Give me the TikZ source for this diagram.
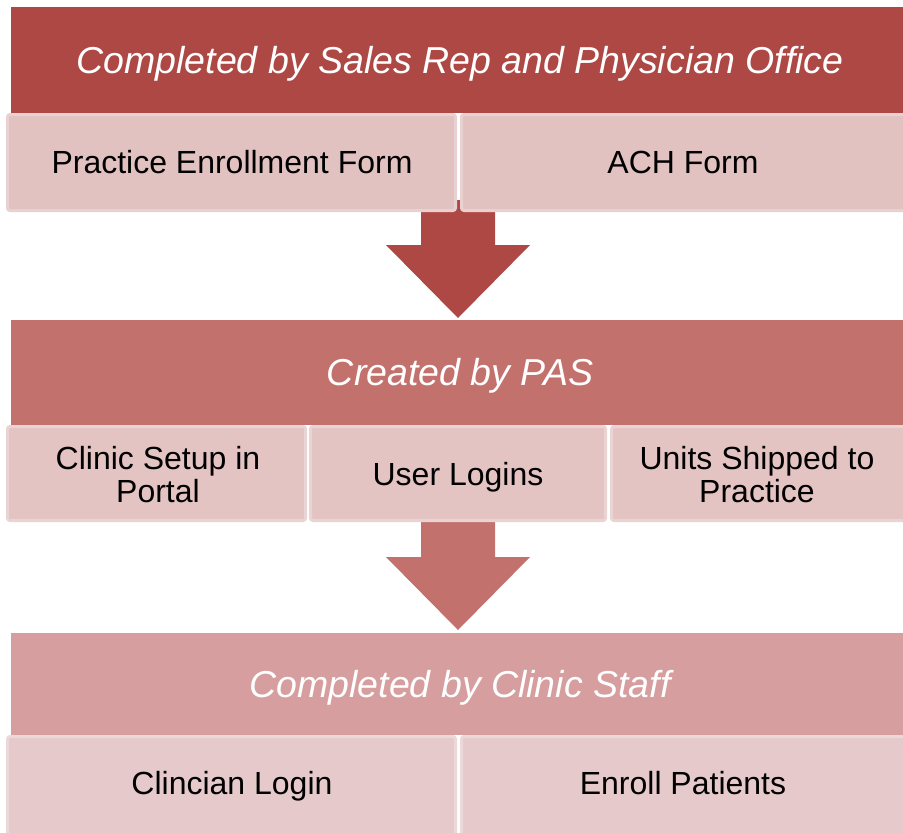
\documentclass[tikz,border=0pt]{standalone}
\usepackage{fontspec}
\setmainfont{Liberation Sans}
\definecolor{hA}{HTML}{AE4845}
\definecolor{hB}{HTML}{C3716D}
\definecolor{hC}{HTML}{D69E9E}
\definecolor{fA}{HTML}{E2C1C1}
\definecolor{fB}{HTML}{E4C3C3}
\definecolor{fC}{HTML}{E6CACB}
\definecolor{bA}{HTML}{E9D1D1}
\definecolor{bB}{HTML}{EAD3D3}
\definecolor{bC}{HTML}{ECD8D8}
\begin{document}
\begin{tikzpicture}[x=1pt,y=-1pt,
  hdr/.style={rectangle, inner sep=0pt, outer sep=0pt, anchor=north west},
  htext/.style={text=white, inner sep=0pt, text height=26.85pt, text depth=0pt,
    font=\fontsize{37.5}{44}\selectfont\itshape},
  sub/.style={rectangle, rounded corners=2.5pt, line width=3pt, anchor=north west, inner sep=0pt},
  stext/.style={text=black, inner sep=0pt, text height=22.9pt, text depth=0pt,
    font=\fontsize{32}{33}\selectfont},
  mtext/.style={text=black, inner sep=0pt, align=center, font=\fontsize{32}{32.7}\selectfont},
  subA/.style={sub, fill=fA, draw=bA},
  subB/.style={sub, fill=fB, draw=bB},
  subC/.style={sub, fill=fC, draw=bC},
]
\useasboundingbox (0,0) rectangle (903,833);
\clip (0,0) rectangle (903,833);
\fill[white] (0,0) rectangle (903,833);

% arrows (drawn first, behind the boxes)
\fill[hA] (421,200) -- (495,200) -- (495,245) -- (530,245) -- (458,318) -- (386,245) -- (421,245) -- cycle;
\fill[hB] (421,510) -- (495,510) -- (495,557) -- (530,557) -- (458,630) -- (386,557) -- (421,557) -- cycle;

% section 1
\node[hdr, fill=hA, minimum width=899pt, minimum height=106pt] (h1) at (11,7) {};
\node[htext] (h1t) at (460,60) {Completed by Sales Rep and Physician Office};
\node[subA, minimum width=448pt, minimum height=96pt] (r1a) at (6,113) {};
\node[stext] (r1at) at (232,162.5) {Practice Enrollment Form};
\node[subA, minimum width=447pt, minimum height=96pt] (r1b) at (460,113) {};
\node[stext] (r1bt) at (683,162.5) {ACH Form};

% section 2
\node[hdr, fill=hB, minimum width=899pt, minimum height=105pt] (h2) at (11,320) {};
\node[htext] (h2t) at (460,372) {Created by PAS};
\node[subB, minimum width=298pt, minimum height=94pt] (r2a) at (6,425) {};
\node[mtext] (r2at) at (158,474.5) {Clinic Setup in\\Portal};
\node[subB, minimum width=295pt, minimum height=94pt] (r2b) at (309,425) {};
\node[stext] (r2bt) at (458,474) {User Logins};
\node[subB, minimum width=297pt, minimum height=94pt] (r2c) at (610,425) {};
\node[mtext] (r2ct) at (757,474.5) {Units Shipped to\\Practice};

% section 3
\node[hdr, fill=hC, minimum width=899pt, minimum height=102pt] (h3) at (11,633) {};
\node[htext] (h3t) at (460,684) {Completed by Clinic Staff};
\node[subC, minimum width=448pt, minimum height=102pt] (r3a) at (6,735) {};
\node[stext] (r3at) at (232,783) {Clincian Login};
\node[subC, minimum width=447pt, minimum height=102pt] (r3b) at (460,735) {};
\node[stext] (r3bt) at (683,783) {Enroll Patients};
\end{tikzpicture}
\end{document}
